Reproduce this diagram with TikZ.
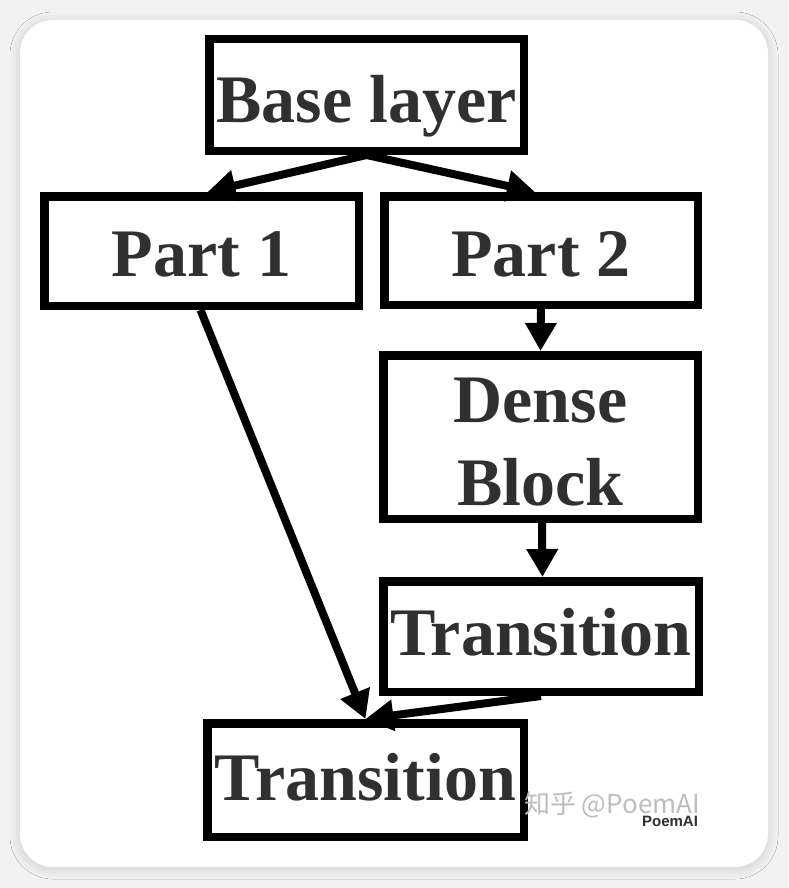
\documentclass[tikz,border=0pt]{standalone}
\usepackage{fontspec}
\setmainfont{Liberation Serif}
\newfontfamily\cjkfont{Noto Sans CJK SC}
\newfontfamily\wmfont{Liberation Sans}
\usetikzlibrary{arrows.meta,shadows.blur}
\definecolor{bgcol}{HTML}{F2F2F2}
\definecolor{txtcol}{HTML}{303030}
\definecolor{wmlight}{HTML}{BDBDBD}
\tikzset{
  box/.style={draw=black, line width=8.5pt, fill=white, inner sep=0pt,
    font=\fontsize{68}{83}\selectfont\bfseries, text=txtcol, text depth=0pt},
  conn/.style={draw=black, line width=8pt, -{Triangle[length=28pt,width=30pt]}},
  wm/.style={inner sep=0pt}
}
\begin{document}
\begin{tikzpicture}[x=1pt,y=-1pt]
\useasboundingbox (0,0) rectangle (788,888);
\fill[bgcol] (0,0) rectangle (788,888);
\fill[white, rounded corners=33pt, blur shadow={shadow xshift=0pt, shadow yshift=-2pt, shadow blur radius=10pt, shadow opacity=16}] (20,20) rectangle (768,867);

\node[box, minimum width=314.5pt, minimum height=111.5pt, text height=54pt] (base) at (366.5,95) {Base layer};
\node[box, minimum width=314.5pt, minimum height=109.5pt, text height=50pt] (part1) at (201.5,251) {Part 1};
\node[box, minimum width=313.5pt, minimum height=108.5pt, text height=51pt] (part2) at (541,250.5) {Part 2};
\node[box, minimum width=314.5pt, minimum height=163.5pt, align=center, text height=136pt, text depth=0pt] (dense) at (540.5,437) {Dense\\Block};
\node[box, minimum width=315.5pt, minimum height=110.5pt, text height=37pt] (transr) at (541,636.5) {Transition};
\node[box, minimum width=316.5pt, minimum height=113.5pt, text height=40pt] (transb) at (365.5,780) {Transition};

\draw[conn] (base.south) -- ([xshift=6pt]part1.north);
\draw[conn] (base.south) -- ([xshift=-6pt]part2.north);
\draw[conn] (part2.south) -- (dense.north);
\draw[conn] ([xshift=1.5pt]dense.south) -- ([xshift=1.5pt]transr.north);
\draw[conn] ([xshift=-1pt]part1.south) -- (transb.north);
\draw[conn] (transr.south) -- (transb.north);

\node[wm, text=wmlight, font=\cjkfont\fontsize{26}{30}\selectfont] (wm1) at (612,805) {知乎 @PoemAI};
\node[wm, text=txtcol, font=\wmfont\bfseries\fontsize{15}{18}\selectfont] (wm2) at (670,821) {PoemAI};
\end{tikzpicture}
\end{document}
